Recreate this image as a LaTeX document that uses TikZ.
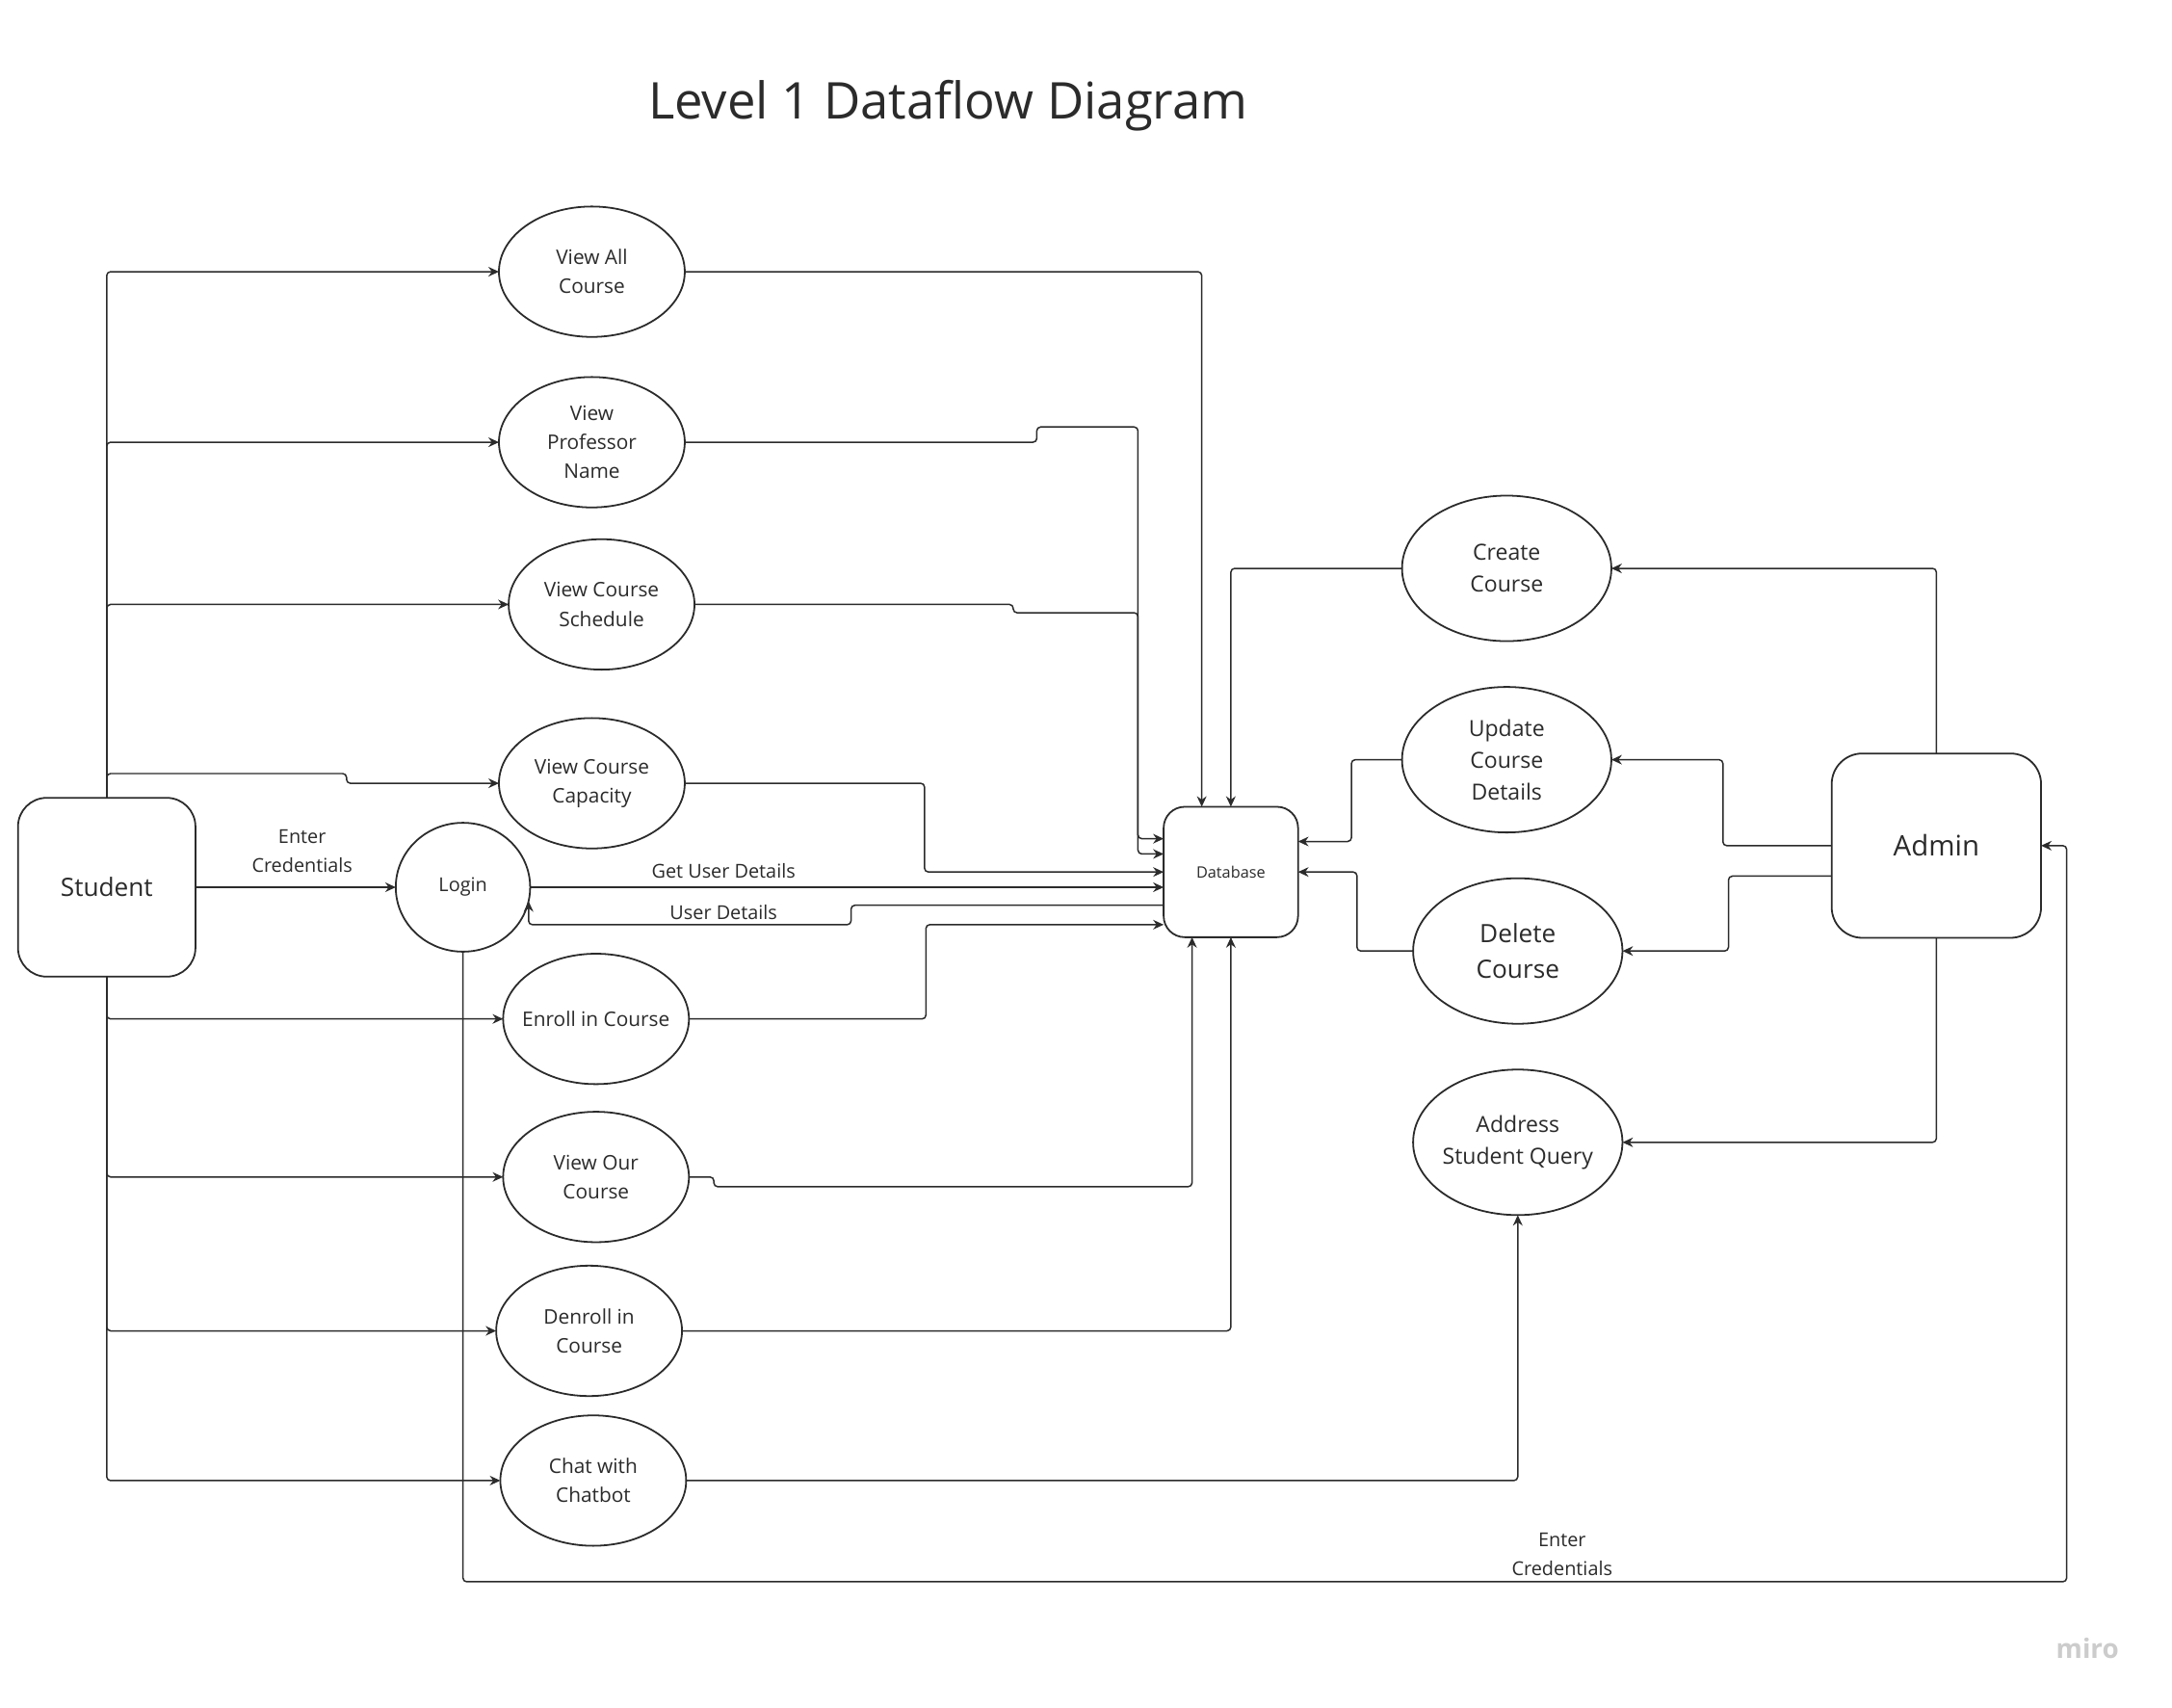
\documentclass[tikz,border=0pt]{standalone}
\usepackage{fontspec}
\setmainfont{Open Sans}
\usetikzlibrary{shapes.geometric,arrows.meta,calc}
\definecolor{ink}{HTML}{2B2B2B}
\begin{document}
\begin{tikzpicture}[x=0.725pt,y=-0.725pt,
  proc/.style={ellipse,draw=ink,line width=0.9pt,inner sep=0pt,outer sep=0pt,minimum width=97.2pt,minimum height=68.2pt,align=center,font=\fontsize{10.5}{15.2}\selectfont,text=ink},
  bproc/.style={proc,minimum width=109.5pt,minimum height=76.1pt,font=\fontsize{11.6}{16.7}\selectfont},
  ent/.style={rectangle,draw=ink,line width=0.9pt,inner sep=0pt,outer sep=0pt,align=center,text=ink},
  arr/.style={draw=ink,line width=0.75pt,rounded corners=2pt,-{Stealth[length=5.5pt,width=5pt]}},
  lbl/.style={font=\fontsize{10}{15.2}\selectfont,text=ink,align=center}]
\fill[white] (0,0) rectangle (1567,1232);
\useasboundingbox (0,0) rectangle (1567,1232);

\node[font=\fontsize{26.5}{30}\selectfont,text=ink] (title) at (684,76) {Level 1 Dataflow Diagram};
\node[font=\fontsize{14}{16}\selectfont\bfseries,text=gray!40] (miro) at (1506,1189) {miro};

% processes
\node[proc] (vac) at (427,196) {View All\\Course};
\node[proc] (vpn) at (427,319) {View\\Professor\\Name};
\node[proc] (vcs) at (434,436) {View Course\\Schedule};
\node[proc] (vcc) at (427,565) {View Course\\Capacity};
\node[proc] (eic) at (430,735) {\makebox[0pt]{Enroll in Course}};
\node[proc] (voc) at (430,849) {View Our\\Course};
\node[proc] (dic) at (425,960) {Denroll in\\Course};
\node[proc] (cwc) at (428,1068) {Chat with\\Chatbot};
\node[bproc] (cc) at (1087,410) {Create\\Course};
\node[bproc] (ucd) at (1087,548) {Update\\Course\\Details};
\node[bproc,font=\fontsize{13.2}{19}\selectfont] (dc) at (1095,686) {Delete\\Course};
\node[bproc,inner xsep=-2pt] (asq) at (1095,824) {Address\\Student Query};
\node[proc,minimum width=70.3pt,minimum height=67.4pt,font=\fontsize{10}{12}\selectfont] (login) at (334,640) {Login};

% entities
\node[ent,minimum width=92.8pt,minimum height=93.5pt,rounded corners=15pt,font=\fontsize{13.2}{16}\selectfont] (student) at (77,640) {Student};
\node[ent,minimum width=70.3pt,minimum height=68.2pt,rounded corners=11pt,font=\fontsize{8.2}{10}\selectfont] (db) at (888,629) {Database};
\node[ent,minimum width=109.5pt,minimum height=96.4pt,rounded corners=16pt,font=\fontsize{14.8}{18}\selectfont] (admin) at (1397,610) {Admin};

% labels
\node[lbl] (l1) at (218,614) {Enter\\Credentials};
\node[lbl] (l2) at (522,628) {Get User Details};
\node[lbl] (l3) at (522,658) {User Details};
\node[lbl] (l4) at (1127,1121) {Enter\\Credentials};

% student to processes
\draw[arr] (student.north) |- (vac.west);
\draw[arr] (student.north) |- (vpn.west);
\draw[arr] (student.north) |- (vcs.west);
\draw[arr] (student.north) |- (250,558) |- (vcc.west);
\draw[arr] (student.east) -- (login.west);
\draw[arr] (student.south) |- (eic.west);
\draw[arr] (student.south) |- (voc.west);
\draw[arr] (student.south) |- (dic.west);
\draw[arr] (student.south) |- (cwc.west);

% processes to database
\draw[arr] (vac.east) -| ($(db.north)+(-21,0)$);
\draw[arr] (vpn.east) -| (748,308) -| (821,605) -- ($(db.west)+(0,-24)$);
\draw[arr] (vcs.east) -| (731,442) -| (821,616) -- ($(db.west)+(0,-13)$);
\draw[arr] (vcc.east) -| (667,629) -- (db.west);
\draw[arr] (login.east) -- (login.east -| db.west);
\draw[arr] ($(db.west)+(0,24)$) -| (614,667) -| (login.-12);
\draw[arr] (eic.east) -| (668,667) -- ($(db.west)+(0,38)$);
\draw[arr] (voc.east) -| (515,856) -| ($(db.south)+(-28,0)$);
\draw[arr] (dic.east) -| (db.south);
\draw[arr] (cwc.east) -| (asq.south);

% admin side
\draw[arr] (cc.west) -| (db.north);
\draw[arr] (ucd.west) -| (975,607) -- ($(db.east)+(0,-22)$);
\draw[arr] (dc.west) -| (979,629) -- (db.east);
\draw[arr] (admin.north) |- (cc.east);
\draw[arr] (admin.west) -| (1243,548) -- (ucd.east);
\draw[arr] ($(admin.west)+(0,22)$) -| (1247,686) -- (dc.east);
\draw[arr] (admin.south) |- (asq.east);
\draw[arr] (login.south) |- (1491,1141) |- (admin.east);
\end{tikzpicture}
\end{document}
